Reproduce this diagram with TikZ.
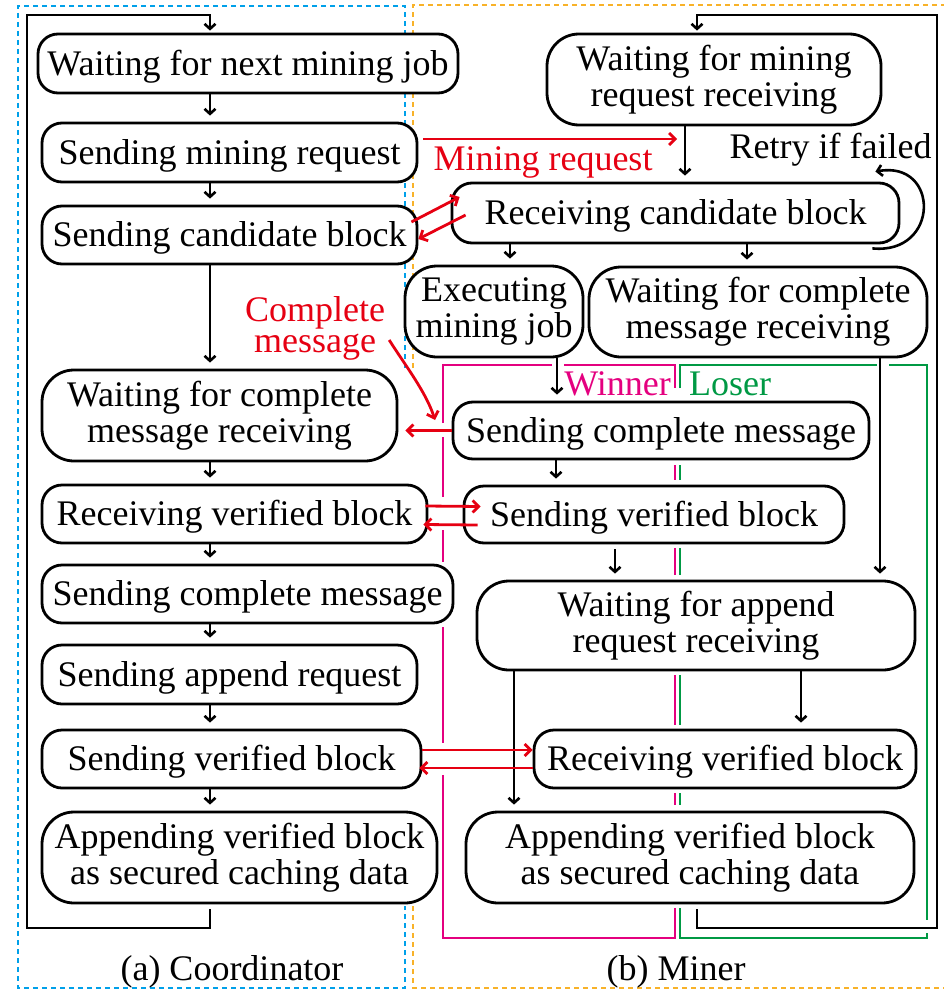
\documentclass[tikz,border=0pt]{standalone}
\usepackage{fontspec}
\setmainfont{Liberation Serif}
\usetikzlibrary{arrows.meta,calc}
\definecolor{frameblue}{HTML}{00A0E9}
\definecolor{frameorange}{HTML}{F8B229}
\definecolor{msgred}{HTML}{E60012}
\definecolor{winpink}{HTML}{E4007F}
\definecolor{losegreen}{HTML}{009944}
\begin{document}
\begin{tikzpicture}[x=1pt,y=-1pt,
  txt/.style={font=\fontsize{36}{36}\selectfont},
  box/.style={draw, line width=2.8pt, fill=white, rounded corners=20pt,
    inner sep=0pt, align=center, txt, execute at begin node={\rule{0pt}{31pt}}},
  tallbox/.style={box, rounded corners=32pt},
  flow/.style={line width=2.6pt, -{Straight Barb[length=5pt,width=11pt]}, shorten >=6pt},
  loopflow/.style={line width=2.6pt, -{Straight Barb[length=5pt,width=11pt]}, shorten >=2pt, shorten <=5pt},
  redarr/.style={msgred, line width=2.8pt, -{Straight Barb[length=6pt,width=12pt]}},
  frame/.style={line width=2.2pt, dash pattern=on 5pt off 4pt},
  winline/.style={winpink, line width=2.8pt},
  loseline/.style={losegreen, line width=2.8pt}]
\useasboundingbox (0,0) rectangle (944,990);

% dashed frames of the two panels
\draw[frame, frameblue] (405,368) -- (405,6) -- (18,6) -- (18,988) -- (405,988) -- (405,906);
\draw[frame, frameorange] (413,368) -- (413,5) -- (944,5);
\draw[frame, frameorange] (413,906) -- (413,988) -- (944,988);

% winner path (magenta)
\draw[winline] (443,423) -- (443,365) -- (552,365);
\draw[winline] (564,365) -- (675,365) -- (675,388);
\draw[winline] (443,437) -- (443,497);
\draw[winline] (443,530) -- (443,562);
\draw[winline] (443,627) -- (443,743);
\draw[winline] (443,775) -- (443,938) -- (675,938) -- (675,908);
\foreach \a/\b in {465/480,548/575,675/725,793/805}
  \draw[winline] (675,\a) -- (675,\b);

% loser path (green)
\draw[loseline] (680,388) -- (680,365) -- (877,365);
\draw[loseline] (889,365) -- (927,365) -- (927,920);
\draw[loseline] (927,933) -- (927,938) -- (680,938) -- (680,908);
\foreach \a/\b in {465/480,548/575,675/725,793/805}
  \draw[loseline] (680,\a) -- (680,\b);

% coordinator states
\node[box, minimum width=420, minimum height=59] (C1) at (248,63.5) {Waiting for next mining job};
\node[box, minimum width=375, minimum height=59] (C2) at (229.5,152.5) {Sending mining request};
\node[box, minimum width=375, minimum height=58] (C3) at (229.5,235) {Sending candidate block};
\node[tallbox, minimum width=355, minimum height=91] (C4) at (219.5,415.5) {Waiting for complete\\message receiving};
\node[box, minimum width=385, minimum height=58] (C5) at (234.5,514) {Receiving verified block};
\node[box, minimum width=411, minimum height=58] (C6) at (247.5,594) {Sending complete message};
\node[box, minimum width=375, minimum height=59] (C7) at (229.5,674.5) {Sending append request};
\node[box, minimum width=379, minimum height=58] (C8) at (231.5,759) {Sending verified block};
\node[tallbox, minimum width=395, minimum height=91] (C9) at (239.5,857.5) {Appending verified block\\as secured caching data};

% miner states
\node[tallbox, minimum width=334, minimum height=91] (M1) at (714,79.5) {Waiting for mining\\request receiving};
\node[box, minimum width=447, minimum height=60] (RCB) at (675.5,213) {Receiving candidate block};
\node[tallbox, minimum width=178, minimum height=91] (EX) at (494,311.5) {Executing\\mining job};
\node[tallbox, minimum width=338, minimum height=90] (WCM) at (758,312) {Waiting for complete\\message receiving};
\node[box, minimum width=416, minimum height=57] (SCM) at (661,430.5) {Sending complete message};
\node[box, minimum width=380, minimum height=57] (SVB) at (654,514.5) {Sending verified block};
\node[tallbox, minimum width=438, minimum height=89] (WAR) at (696,625.5) {Waiting for append\\request receiving};
\node[box, minimum width=382, minimum height=58] (RVB) at (725,759) {Receiving verified block};
\node[tallbox, minimum width=448, minimum height=91] (APP) at (690,857.5) {Appending verified block\\as secured caching data};

% columns and corners of the flow lines
\coordinate (ax) at (210,0);
\coordinate (cbot) at (27,928);
\coordinate (ctop) at (27,15);
\coordinate (mloop) at (697,0);
\coordinate (mbot) at (937,928);
\coordinate (mtop) at (937,15);
\coordinate (m1x) at (685,0);
\coordinate (exa) at (510,0);
\coordinate (exb) at (747,0);
\coordinate (exx) at (557,0);
\coordinate (wcmx) at (880,0);
\coordinate (scmx) at (556,0);
\coordinate (svbx) at (615,0);
\coordinate (warl) at (514,0);
\coordinate (warr) at (801,0);
\coordinate (mrq) at (677,139);
\coordinate (cmtip) at (435,420);

% coordinator flow
\draw[loopflow, line join=miter] (C9.south -| ax) -- (ax |- cbot) -- (cbot) -- (ctop) -- (ax |- ctop) -- (C1.north -| ax);
\draw[flow] (C1.south -| ax) -- (C2.north -| ax);
\draw[flow] (C2.south -| ax) -- (C3.north -| ax);
\draw[flow] (C3.south -| ax) -- (C4.north -| ax);
\draw[flow] (C4.south -| ax) -- (C5.north -| ax);
\draw[flow] (C5.south -| ax) -- (C6.north -| ax);
\draw[flow] (C6.south -| ax) -- (C7.north -| ax);
\draw[flow] (C7.south -| ax) -- (C8.north -| ax);
\draw[flow] (C8.south -| ax) -- (C9.north -| ax);

% miner flow
\draw[loopflow, line join=miter] (APP.south -| mloop) -- (mloop |- mbot) -- (mbot) -- (mtop) -- (mloop |- mtop) -- (M1.north -| mloop);
\draw[flow] (M1.south -| m1x) -- (RCB.north -| m1x);
\draw[flow] (RCB.south -| exa) -- (EX.north -| exa);
\draw[flow] (RCB.south -| exb) -- (WCM.north -| exb);
\draw[flow] (EX.south -| exx) -- (SCM.north -| exx);
\draw[flow] (WCM.south -| wcmx) -- (WAR.north -| wcmx);
\draw[flow] (SCM.south -| scmx) -- (SVB.north -| scmx);
\draw[flow, shorten <=5pt] (SVB.south -| svbx) -- (WAR.north -| svbx);
\draw[flow] (WAR.south -| warl) -- (APP.north -| warl);
\draw[flow] (WAR.south -| warr) -- (RVB.north -| warr);
\draw[flow, shorten >=0pt] ($(RCB.south east)+(-28,4)$) .. controls (940,255) and (940,160) .. ($(RCB.north east)+(-25,-10)$);

% messages between coordinator and miner
\draw[redarr, shorten <=5pt] (C2.east |- mrq) -- (mrq);
\draw[redarr] ($(C3.east)+(-7,-13)$) -- ($(RCB.west)+(9,-16)$);
\draw[redarr] ($(RCB.west)+(15,2)$) -- ($(C3.east)+(0,4)$);
\draw[redarr, shorten >=7pt] (SCM.west) -- (SCM.west -| C4.east);
\draw[redarr] ($(C5.east)+(-3,-8)$) -- ($(SVB.west)+(18,-8)$);
\draw[redarr] ($(SVB.west)+(15,10.5)$) -- ($(C5.east)+(-5,10.5)$);
\draw[redarr] ($(C8.east)+(0,-9)$) -- ($(RVB.west)+(0,-9)$);
\draw[redarr] ($(RVB.west)+(0,9)$) -- ($(C8.east)+(-3,9)$);

% labels
\node[txt, text=msgred, anchor=base] (mrlab) at (543,170) {Mining request};
\node[txt, anchor=base] (retry) at (830.5,158) {Retry if failed};
\node[font=\fontsize{36}{31}\selectfont, text=msgred, align=center, inner sep=0pt] (cmlab) at (315,328) {Complete\\message};
\draw[redarr] ($(cmlab.east)+(4,12)$) .. controls (405,365) and (426,392) .. (cmtip);
\node[txt, text=winpink, anchor=base] (winlab) at (617.5,395) {Winner};
\node[txt, text=losegreen, anchor=base] (loslab) at (730,395) {Loser};
\node[txt, anchor=base] (capa) at (232,980) {(a) Coordinator};
\node[txt, anchor=base] (capb) at (676,980) {(b) Miner};
\end{tikzpicture}
\end{document}
